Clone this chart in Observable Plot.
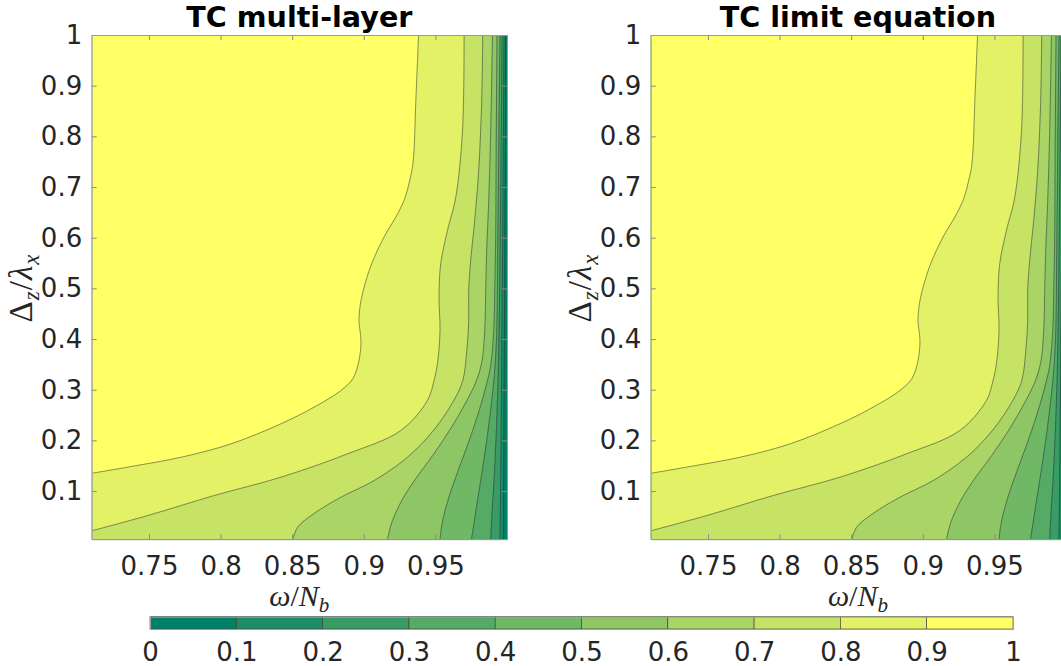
<!DOCTYPE html>
<html><head><meta charset="utf-8">
<script src="https://cdn.jsdelivr.net/npm/d3@7"></script>
<script src="https://cdn.jsdelivr.net/npm/@observablehq/plot@0.6"></script>
<style>
html,body{margin:0;padding:0;background:#fff;overflow:hidden;width:1061px;height:666px;}
#root{position:relative;width:1061px;height:666px;overflow:hidden;}
.abs{position:absolute;}
.title{font:bold 28.6px "DejaVu Sans",sans-serif;line-height:1;color:#000;white-space:nowrap;transform:translate(-50%,0);}
.math{font-family:"Liberation Serif","DejaVu Serif",serif;font-size:30px;color:#262626;white-space:nowrap;line-height:0.9;}
.math sub{font-size:0.7em;vertical-align:-0.3em;line-height:0;}
.ylab{transform:translate(-50%,-50%) rotate(-90deg);font-size:33px;letter-spacing:1px;}
.xlab{transform:translate(-50%,0);}
</style></head>
<body><div id="root"></div>
<script>
// ---------- data ----------
const titles = ["TC multi-layer", "TC limit equation"];
const xDomain = [0.71, 1.0];          // ω/N_b
const yDomain = [0.005, 1.0];         // Δz/λx
const xTicks = [0.75, 0.8, 0.85, 0.9, 0.95];
const yTicks = [0.1, 0.2, 0.3, 0.4, 0.5, 0.6, 0.7, 0.8, 0.9, 1];
const levels = [0.1, 0.2, 0.3, 0.4, 0.5, 0.6, 0.7, 0.8, 0.9];
const cbTicks = [0, 0.1, 0.2, 0.3, 0.4, 0.5, 0.6, 0.7, 0.8, 0.9, 1];
const colors = ["#008066","#1c8e66","#399c66","#55aa66","#71b866","#8ec666","#aad466","#c6e366","#e3f166","#ffff66"];

// contour lines: [ω, Δz/λx] points, per level
const c90 = [[0.7105,0.1364],[0.7372,0.1494],[0.7722,0.1678],[0.8071,0.1942],[0.8418,0.2337],[0.8649,0.2664],[0.8837,0.2994],[0.8921,0.3231],[0.8963,0.3586],[0.8977,0.3981],[0.8963,0.4375],[0.8977,0.4770],[0.9012,0.5165],[0.9055,0.5520],[0.9136,0.6013],[0.9234,0.6487],[0.9285,0.6800],[0.9317,0.7138],[0.9340,0.7474],[0.9361,0.8776],[0.9379,1.0]];
const c80 = [[0.7105,0.0231],[0.7489,0.0527],[0.7953,0.0922],[0.8418,0.1283],[0.8884,0.1745],[0.9255,0.2204],[0.9441,0.2797],[0.9487,0.3191],[0.9511,0.3527],[0.9529,0.4178],[0.9522,0.4835],[0.9534,0.5500],[0.9581,0.6152],[0.9639,0.6809],[0.9686,0.8125],[0.9697,1.0]];
const c70 = [[0.85,0.005],[0.8535,0.0296],[0.8649,0.0566],[0.8837,0.0888],[0.9070,0.1218],[0.9302,0.1678],[0.9485,0.2211],[0.9625,0.2797],[0.9688,0.3191],[0.9716,0.3783],[0.9729,0.4375],[0.9729,0.4967],[0.9743,0.5560],[0.9771,0.6349],[0.9799,0.7336],[0.9820,0.8717],[0.9827,1.0]];
const c60 = [[0.9162,0.005],[0.9192,0.0389],[0.9262,0.0823],[0.9360,0.1257],[0.9478,0.1711],[0.9604,0.2244],[0.9709,0.2757],[0.9778,0.3152],[0.9820,0.3546],[0.9841,0.4178],[0.9848,0.4967],[0.9855,0.5757],[0.9869,0.6744],[0.9883,0.8125],[0.9895,1.0]];
const c50 = [[0.9529,0.005],[0.9541,0.0330],[0.9568,0.0665],[0.9618,0.1119],[0.9687,0.1652],[0.9757,0.2204],[0.9813,0.2698],[0.9855,0.3132],[0.9883,0.3487],[0.9904,0.4178],[0.9911,0.4967],[0.9918,0.6152],[0.9921,0.7730],[0.9927,1.0]];
const c40 = [[0.9748,0.005],[0.9764,0.0330],[0.9785,0.0724],[0.9813,0.1217],[0.9855,0.2007],[0.9890,0.2797],[0.9911,0.3389],[0.9925,0.4178],[0.9932,0.5757],[0.9939,0.7730],[0.9948,1.0]];
const c30 = [[0.9883,0.005],[0.9893,0.0626],[0.9906,0.1217],[0.9925,0.2402],[0.9939,0.3783],[0.9952,0.6744],[0.9962,1.0]];
const c20 = [[0.9948,0.005],[0.9955,0.2],[0.9962,0.45],[0.9969,0.7],[0.9976,1.0]];
const c10 = [[0.9971,0.005],[0.9976,0.3],[0.9982,0.6],[0.9987,1.0]];

const multiLayer = [c10, c20, c30, c40, c50, c60, c70, c80, c90];
const limitEq    = [c10, c20, c30, c40, c50, c60, c70, c80, c90];

// ---------- drawing ----------
const root = document.getElementById("root");
const fmt = d => String(d);
const colorScale = {type: "threshold", domain: levels, range: colors};

const PW = 520, PH = 600, ML = 91.7, MR = 13, MT = 35, MB = 60.8;
const FW = PW - ML - MR, FH = PH - MT - MB;

function panel(contours, offsetX, title) {
  const rows = contours.flatMap((pts, i) => pts.map(([w, d]) => ({level: levels[i], w, d})));
  const svg = Plot.plot({
    width: PW, height: PH,
    marginLeft: ML, marginRight: MR, marginTop: MT, marginBottom: MB,
    x: {domain: xDomain},
    y: {domain: yDomain},
    color: colorScale,
    style: {fontFamily: "DejaVu Sans, sans-serif", fontSize: "26px", color: "#262626", background: "transparent"},
    marks: [
      Plot.frame({fill: colors[0], stroke: null}),
      Plot.areaX(rows, {x1: xDomain[0], x2: "w", y: "d", z: "level", fill: "level", curve: "catmull-rom", clip: true}),
      Plot.line(rows, {x: "w", y: "d", z: "level", stroke: "#2a2a2a", strokeWidth: 0.6, strokeOpacity: 0.8, curve: "catmull-rom", clip: true}),
      Plot.ruleX(xTicks, {x: d => d, insetTop: FH - 5, stroke: "#8a8a8a"}),
      Plot.ruleX(xTicks, {x: d => d, insetBottom: FH - 5, stroke: "#8a8a8a"}),
      Plot.ruleY(yTicks, {y: d => d, insetRight: FW - 5, stroke: "#8a8a8a"}),
      Plot.ruleY(yTicks, {y: d => d, insetLeft: FW - 5, stroke: "#8a8a8a"}),
      Plot.frame({stroke: "#9a9a9a"}),
      Plot.axisX(xTicks, {tickSize: 0, tickPadding: 17, tickFormat: fmt, label: null}),
      Plot.axisY(yTicks, {tickSize: 0, tickPadding: 10, tickFormat: fmt, label: null})
    ]
  });
  svg.classList.add("abs");
  svg.style.left = offsetX + "px";
  svg.style.top = "0px";
  svg.style.maxWidth = "none";
  root.appendChild(svg);

  const cx = offsetX + ML + (507 - ML) / 2;
  const t = document.createElement("div");
  t.className = "abs title"; t.textContent = title;
  t.style.left = cx + "px"; t.style.top = "3px";
  root.appendChild(t);

  const xl = document.createElement("div");
  xl.className = "abs math xlab";
  xl.innerHTML = '<i>ω</i>/<i>N</i><sub><i>b</i></sub>';
  xl.style.left = cx + "px"; xl.style.top = "582px";
  root.appendChild(xl);

  const yl = document.createElement("div");
  yl.className = "abs math ylab";
  yl.innerHTML = 'Δ<sub><i>z</i></sub>/<i>λ</i><sub><i>x</i></sub>';
  yl.style.left = (offsetX + 22) + "px"; yl.style.top = "288px";
  root.appendChild(yl);
}

panel(multiLayer, 0, titles[0]);
panel(limitEq, 558.6, titles[1]);

// colorbar
const bins = cbTicks.slice(0, -1).map((lo, i) => ({lo, hi: cbTicks[i + 1]}));
const cb = Plot.plot({
  width: 1061, height: 66,
  marginLeft: 150, marginRight: 48, marginTop: 16.7, marginBottom: 37,
  x: {domain: [0, 1]},
  color: colorScale,
  style: {fontFamily: "DejaVu Sans, sans-serif", fontSize: "26px", color: "#262626", background: "transparent"},
  marks: [
    Plot.rect(bins, {x1: "lo", x2: "hi", fill: d => (d.lo + d.hi) / 2, stroke: "#3a3a3a", strokeWidth: 0.6}),
    Plot.frame({stroke: "#a0a0a0"}),
    Plot.axisX(cbTicks, {tickSize: 0, tickPadding: 13, tickFormat: fmt, label: null})
  ]
});
cb.classList.add("abs");
cb.style.left = "0px"; cb.style.top = "600px"; cb.style.maxWidth = "none";
root.appendChild(cb);
</script>
</body></html>
